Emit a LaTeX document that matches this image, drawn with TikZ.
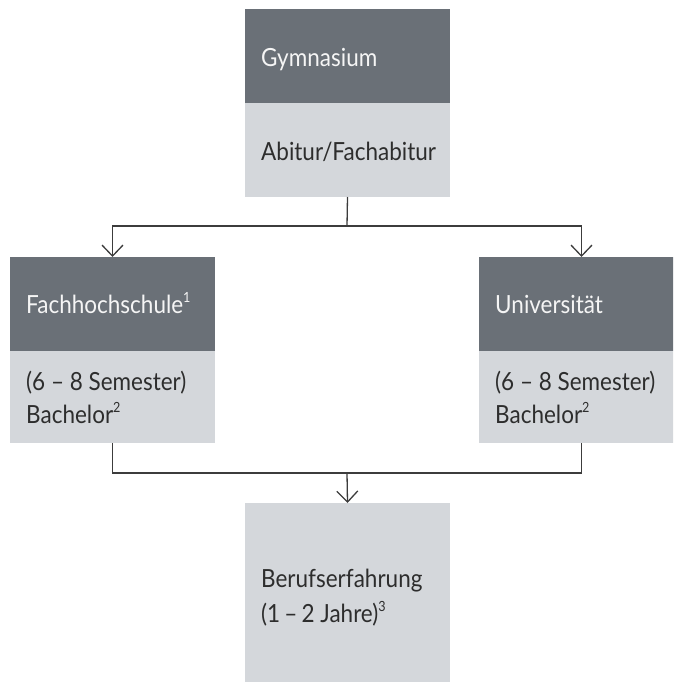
\documentclass[tikz,border=0pt]{standalone}
\usepackage{fontspec}
\setmainfont{Lato}[FakeStretch=0.9]
\usetikzlibrary{arrows.meta}
\definecolor{darkgrey}{RGB}{106,112,119}
\definecolor{lightgrey}{RGB}{212,215,219}
\definecolor{linegrey}{RGB}{60,60,60}
\definecolor{darktext}{RGB}{45,45,45}
\definecolor{whitetext}{RGB}{245,245,245}
\newcommand{\sups}[1]{\raisebox{0.42em}{\fontsize{14pt}{14pt}\selectfont #1}}
\tikzset{
  darkbox/.style={fill=darkgrey, draw=none, minimum width=205pt, minimum height=94pt, anchor=north west, inner sep=0pt, outer sep=0pt},
  lightbox/.style={fill=lightgrey, draw=none, minimum width=205pt, anchor=north west, inner sep=0pt, outer sep=0pt},
  wtxt/.style={anchor=base west, inner sep=0pt, text=whitetext, font=\fontsize{25pt}{30pt}\selectfont},
  dtxt/.style={anchor=base west, inner sep=0pt, text=darktext, font=\fontsize{25pt}{30pt}\selectfont},
  conn/.style={draw=linegrey, line width=1.3pt},
  arr/.style={conn, -{Straight Barb[length=11pt, width=21pt, line width=1.3pt]}}
}
\begin{document}
\begin{tikzpicture}[x=1pt,y=-1pt]
\clip (0,0) rectangle (673,682);
% boxes
\node[darkbox] (gym) at (245,9) {};
\node[lightbox, minimum height=94pt] (abi) at (245,103) {};
\node[darkbox] (fh) at (10,257) {};
\node[lightbox, minimum height=92pt] (fhl) at (10,351) {};
\node[darkbox] (uni) at (479,257) {};
\node[lightbox, minimum height=92pt] (unil) at (479,351) {};
\node[lightbox, minimum height=180pt] (beruf) at (245,503) {};
% texts
\node[wtxt] (tgym) at (261,67) {Gymnasium};
\node[dtxt] (tabi) at (261,160) {Abitur/Fachabitur};
\node[wtxt] (tfh) at (26,313) {Fachhochschule\sups{1}};
\node[dtxt] (tfh1) at (26,390) {(6 – 8 Semester)};
\node[dtxt] (tfh2) at (26,423) {Bachelor\sups{2}};
\node[wtxt] (tuni) at (495,313) {Universität};
\node[dtxt] (tuni1) at (495,390) {(6 – 8 Semester)};
\node[dtxt] (tuni2) at (495,423) {Bachelor\sups{2}};
\node[dtxt] (tb1) at (261,587) {Berufserfahrung};
\node[dtxt] (tb2) at (261,622) {(1\,–\,2 Jahre)\sups{3}};
% connectors
\coordinate (j1) at (347,226);
\coordinate (j2) at (347,473);
\draw[conn] (abi.south) -- (j1);
\draw[arr] (j1) -| (fh.north);
\draw[arr] (j1) -| (uni.north);
\draw[conn] (fhl.south) |- (j2);
\draw[conn] (unil.south) |- (j2);
\draw[arr] (j2) -- (beruf.north);
\end{tikzpicture}
\end{document}
